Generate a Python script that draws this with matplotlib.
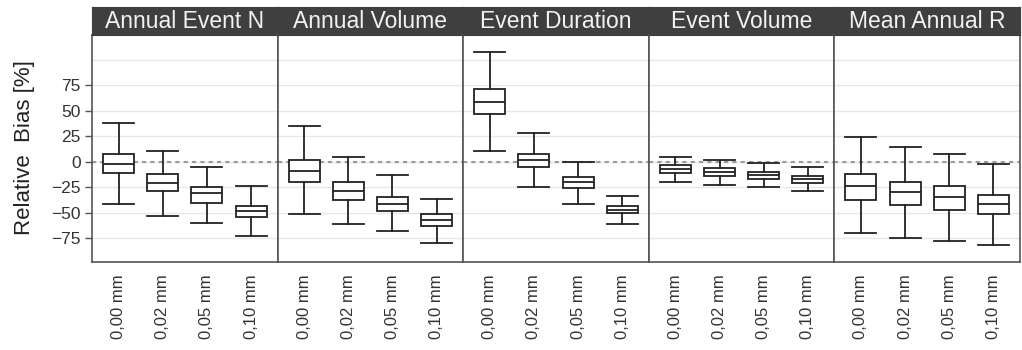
import matplotlib
matplotlib.use("Agg")
import matplotlib.pyplot as plt

# -*- relative bias per metric and threshold -*-
panels = ['Annual Event N', 'Annual Volume', 'Event Duration', 'Event Volume', 'Mean Annual R']
thresholds = ['0,00 mm', '0,02 mm', '0,05 mm', '0,10 mm']

whislo = [[-41, -53, -60, -73],
          [-51, -61, -68, -79],
          [11, -25, -41, -61],
          [-20, -23, -25, -29],
          [-70, -75, -77, -81]]
q1 = [[-11, -29, -40, -54],
      [-20, -37, -48, -63],
      [47, -5, -26, -50],
      [-11, -14, -17, -21],
      [-37, -42, -47, -51]]
med = [[-2, -21, -31, -48],
       [-9, -29, -41, -57],
       [58, 2, -20, -47],
       [-7, -10, -13, -17],
       [-24, -30, -34, -41]]
q3 = [[8, -12, -25, -43],
      [2, -20, -34, -51],
      [71, 8, -15, -43],
      [-3, -6, -10, -14],
      [-12, -20, -24, -32]]
whishi = [[38, 11, -5, -24],
          [35, 5, -13, -36],
          [107, 28, 0, -33],
          [5, 2, -1, -5],
          [24, 14, 8, -2]]

yticks = [-75, -50, -25, 0, 25, 50, 75]

plt.rcParams['font.family'] = ['Liberation Sans', 'DejaVu Sans']

W, H = 1022, 350
fig = plt.figure(figsize=(W/100., H/100.), dpi=100)

left, right = 92, 1020
top, bottom = 35, 262
strip_top = 7
pw = (right - left) / 5.0

for i in range(5):
    x0 = left + i*pw
    ax = fig.add_axes([x0/W, 1 - bottom/float(H), pw/W, (bottom - top)/float(H)])
    stats = []
    for j in range(4):
        stats.append({'med': med[i][j], 'q1': q1[i][j], 'q3': q3[i][j],
                      'whislo': whislo[i][j], 'whishi': whishi[i][j], 'fliers': []})
    ax.axhline(0, color='#9a9a9a', lw=1.5, ls=(0, (2, 2)), zorder=1)
    lp = dict(color='#222222', lw=1.3)
    ax.bxp(stats, positions=[1, 2, 3, 4], widths=0.7, capwidths=0.7,
           patch_artist=True, showfliers=False,
           boxprops=dict(facecolor='white', edgecolor='#222222', lw=1.3),
           medianprops=lp, whiskerprops=lp, capprops=lp, zorder=3)
    ax.set_xlim(0.4, 4.6)
    ax.set_ylim(-98, 124)
    ax.set_yticks(yticks)
    ax.set_yticks([100], minor=True)
    ax.yaxis.grid(True, which='both', color='#e8e8e8', lw=1.0)
    ax.set_axisbelow(True)
    ax.set_xticks([1, 2, 3, 4])
    ax.set_xticklabels(thresholds, rotation=90, fontsize=12, color='#333333')
    ax.tick_params(axis='x', length=0, pad=9)
    ax.tick_params(axis='y', which='minor', length=0)
    if i == 0:
        ax.tick_params(axis='y', length=5, width=1, color='#555555',
                       labelsize=12.5, labelcolor='#333333', pad=3)
    else:
        ax.tick_params(axis='y', length=0, labelleft=False)
    for s in ax.spines.values():
        s.set_color('#555555')
        s.set_linewidth(1.2)

    # strip on top
    sx = fig.add_axes([x0/W, 1 - top/float(H), pw/W, (top - strip_top)/float(H)])
    sx.set_facecolor('#3f3f3f')
    sx.set_xticks([])
    sx.set_yticks([])
    for s in sx.spines.values():
        s.set_color('#3f3f3f')
    sx.text(0.5, 0.47, panels[i], ha='center', va='center', color='#f2f2f2',
            fontsize=16.5, transform=sx.transAxes)

fig.text(25./W, 1 - 148./H, 'Relative  Bias [%]', rotation=90, ha='center',
         va='center', fontsize=16, color='#222222')

fig.savefig('out.png', dpi=100)
